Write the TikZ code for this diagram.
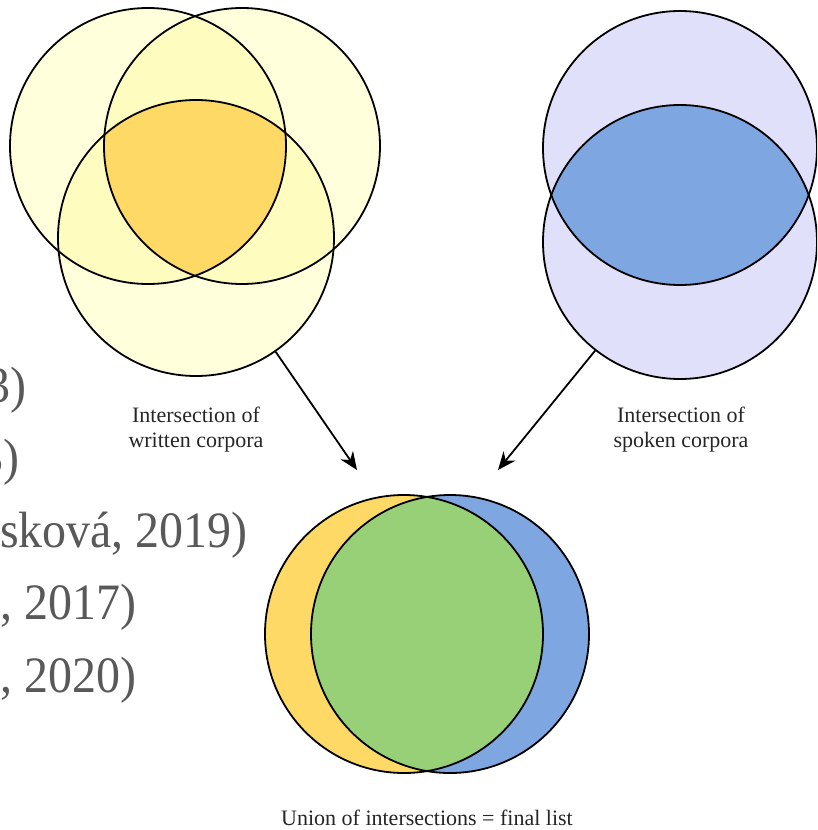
\documentclass[tikz,border=0pt]{standalone}
\usepackage{fontspec}
\usepackage{graphicx}
\usetikzlibrary{arrows.meta}
\newfontfamily\labelfont{Liberation Serif}
\definecolor{paleY}{HTML}{FFFFDC}
\definecolor{pairY}{HTML}{FFFCC0}
\definecolor{goldY}{HTML}{FFD966}
\definecolor{lav}{HTML}{E0E0FA}
\definecolor{cblue}{HTML}{7EA6E0}
\definecolor{lgreen}{HTML}{97D077}
\definecolor{bigtext}{HTML}{595959}
\begin{document}
\begin{tikzpicture}[x=1pt,y=-1pt,
  ring/.style={circle,draw=black,line width=1.8pt,inner sep=0pt,minimum size=#1},
  lbl/.style={font=\labelfont\fontsize{22}{25}\selectfont, text=black!85, align=center, inner sep=0pt},
  big/.style={font=\labelfont\fontsize{51}{60}\selectfont, text=bigtext, inner sep=0pt, anchor=base east},
  conn/.style={line width=1.8pt,-{Stealth[length=18pt,width=15pt]}}]
\useasboundingbox (0,0) rectangle (817,830);
\clip (0,0) rectangle (817,830);
\fill[white] (0,0) rectangle (817,830);

% ---- left group: written corpora
\coordinate (cA) at (148,146);
\coordinate (cB) at (242,146);
\coordinate (cC) at (196,238);
\foreach \c in {cA,cB,cC} \fill[paleY] (\c) circle[radius=138];
\begin{scope}
  \clip (cA) circle[radius=138];
  \fill[pairY] (cB) circle[radius=138];
  \fill[pairY] (cC) circle[radius=138];
\end{scope}
\begin{scope}
  \clip (cB) circle[radius=138];
  \fill[pairY] (cC) circle[radius=138];
\end{scope}
\begin{scope}
  \clip (cA) circle[radius=138];
  \clip (cB) circle[radius=138];
  \fill[goldY] (cC) circle[radius=138];
\end{scope}
\node[ring=276pt] (A) at (cA) {};
\node[ring=276pt] (B) at (cB) {};
\node[ring=276pt] (C) at (cC) {};

% ---- right group: spoken corpora
\coordinate (cT) at (680,148);
\coordinate (cU) at (680,242);
\foreach \c in {cT,cU} \fill[lav] (\c) circle[radius=137];
\begin{scope}
  \clip (cT) circle[radius=137];
  \fill[cblue] (cU) circle[radius=137];
\end{scope}
\node[ring=274pt] (T) at (cT) {};
\node[ring=274pt] (U) at (cU) {};

% ---- bottom group: union
\coordinate (cY) at (404,634);
\coordinate (cL) at (450,634);
\fill[goldY] (cY) circle[radius=139];
\fill[cblue] (cL) circle[radius=139];
\begin{scope}
  \clip (cY) circle[radius=139];
  \fill[lgreen] (cL) circle[radius=139];
\end{scope}
\node[ring=278pt] (Y) at (cY) {};
\node[ring=278pt] (L) at (cL) {};

% ---- arrows
\coordinate (lt) at (357,470);
\coordinate (rt) at (498,470);
\draw[conn] (C.-55) -- (lt);
\draw[conn] (U.-128) -- (rt);

% ---- labels
\node[lbl,anchor=north] (lw) at (196,407) {Intersection of\\written corpora};
\node[lbl,anchor=north] (ls) at (681,407) {Intersection of\\spoken corpora};
\node[lbl,anchor=base] (lu) at (427,825) {Union of intersections = final list};

% ---- partial text at left (cut by the picture's edge, as in the reference)
\node[big] (t1) at (27,402) {\scalebox{0.94}[1]{3)}};
\node[big] (t2) at (20,474.5) {\scalebox{0.94}[1]{3)}};
\node[big] (t3) at (248,547) {\scalebox{0.94}[1]{sková, 2019)}};
\node[big] (t4) at (137,619.5) {\scalebox{0.94}[1]{, 2017)}};
\node[big] (t5) at (137,692) {\scalebox{0.94}[1]{, 2020)}};
\end{tikzpicture}
\end{document}
